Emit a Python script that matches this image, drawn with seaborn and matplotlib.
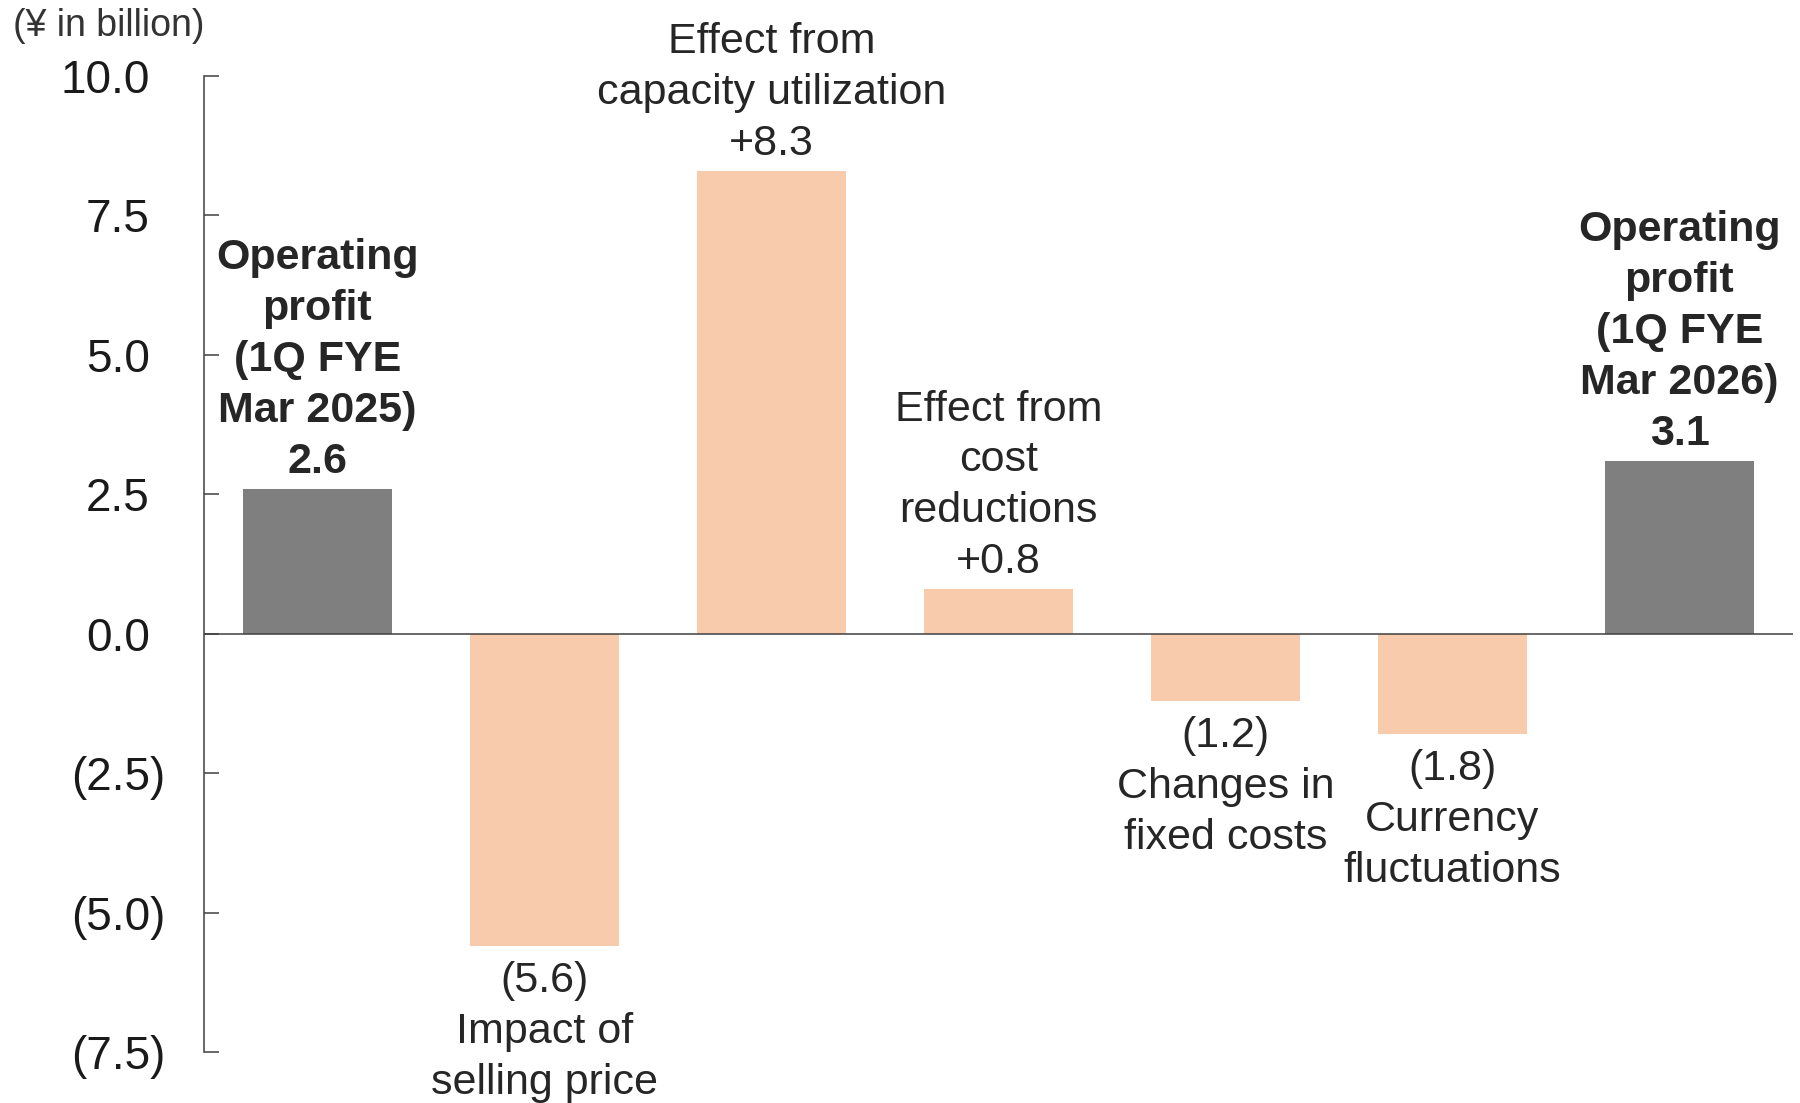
import matplotlib.pyplot as plt
import seaborn as sns
import pandas as pd

# Datos del gráfico (¥ in billion)
categories = ["OP 1Q FYE Mar 2025", "Selling price", "Capacity utilization",
              "Cost reductions", "Fixed costs", "Currency", "OP 1Q FYE Mar 2026"]
values = [2.6, -5.6, 8.3, 0.8, -1.2, -1.8, 3.1]
is_total = [True, False, False, False, False, False, True]
bar_names = ["Operating\nprofit\n(1Q FYE\nMar 2025)",
             "Impact of\nselling price",
             "Effect from\ncapacity utilization",
             "Effect from\ncost\nreductions",
             "Changes in\nfixed costs",
             "Currency\nfluctuations",
             "Operating\nprofit\n(1Q FYE\nMar 2026)"]
y_ticks = [10.0, 7.5, 5.0, 2.5, 0.0, -2.5, -5.0, -7.5]
y_tick_labels = ["10.0", "7.5", "5.0", "2.5", "0.0", "(2.5)", "(5.0)", "(7.5)"]

GRAY = "#7F7F7F"
PEACH = "#F8CBAD"
LINE = "#404040"
TEXT = "#262626"

sns.set_style("white")
plt.rcParams['font.family'] = ['Liberation Sans', 'DejaVu Sans']

df = pd.DataFrame({"item": categories, "value": values})
colors = [GRAY if t else PEACH for t in is_total]

fig = plt.figure(figsize=(18, 11.03), dpi=100)
ax = fig.add_axes([0.1133, 0.0462, 0.8828, 0.8849])

sns.barplot(data=df, x="item", y="value", hue="item", palette=colors,
            legend=False, width=0.66, saturation=1, linewidth=0, ax=ax)

ax.set_xlim(-0.5, len(categories) - 0.5)
ax.set_ylim(-7.5, 10)
ax.axhline(0, color=LINE, lw=1.1, zorder=3)

sns.despine(ax=ax, bottom=True)
ax.spines['left'].set_color(LINE)
ax.spines['left'].set_linewidth(1.1)

ax.set_yticks(y_ticks)
ax.set_yticklabels(y_tick_labels)
ax.tick_params(axis='y', left=True, direction='in', length=10.8, width=1.1,
               color=LINE, labelsize=33, labelcolor="#1a1a1a", pad=28)
ax.tick_params(axis='x', bottom=False, labelbottom=False)
ax.set_xlabel("")
ax.set_ylabel("")

# Alinear los números positivos con los que llevan paréntesis
for tick, lab in zip(ax.yaxis.get_major_ticks(), y_tick_labels):
    if not lab.startswith("("):
        tick.set_pad(39)

# Etiquetas de cada barra
for i, (v, name, tot) in enumerate(zip(values, bar_names, is_total)):
    if tot:
        val = f"{v:.1f}"
    elif v > 0:
        val = f"+{v:.1f}"
    else:
        val = f"({abs(v):.1f})"
    if v > 0:
        txt = name + "\n" + val
        ax.annotate(txt, xy=(i, v), xytext=(0, 5), textcoords='offset points',
                    ha='center', va='bottom', fontsize=31, color=TEXT,
                    fontweight='bold' if tot else 'normal', linespacing=1.35)
    else:
        txt = val + "\n" + name
        ax.annotate(txt, xy=(i, v), xytext=(0, -11), textcoords='offset points',
                    ha='center', va='top', fontsize=31, color=TEXT,
                    linespacing=1.35)

fig.text(0.007, 0.976, "(¥ in billion)", fontsize=27, va='center', color="#333333")

fig.savefig("out.png", dpi=100)
